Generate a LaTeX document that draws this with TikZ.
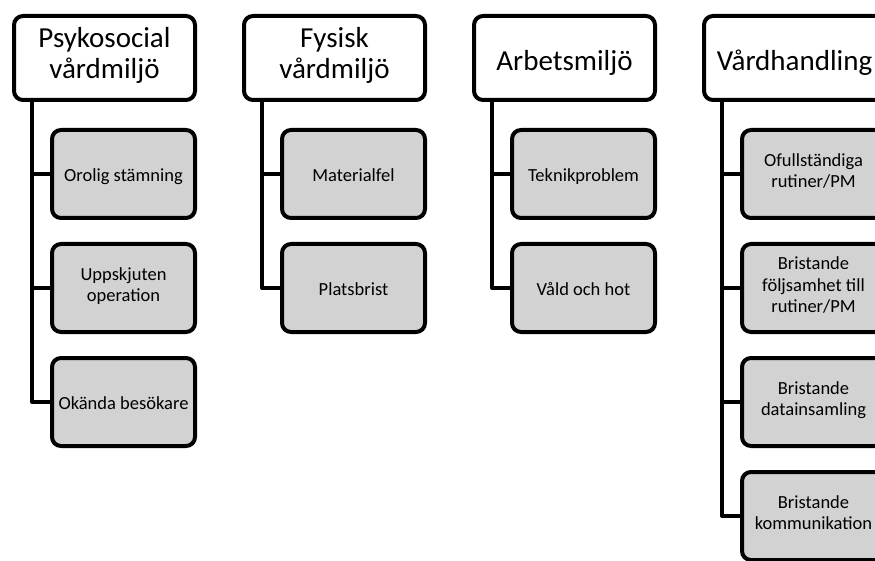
\documentclass[tikz,border=0pt]{standalone}
\usepackage{fontspec}
\setmainfont{Carlito}
\usetikzlibrary{positioning,calc}

\definecolor{subfill}{RGB}{210,210,210}
\tikzset{
  topbox/.style={draw, line width=4pt, rounded corners=9pt, fill=white,
    minimum width=181pt, minimum height=84pt, align=center, inner sep=2pt,
    font=\fontsize{29}{31}\selectfont,
    execute at begin node={\rule{0pt}{1.12\baselineskip}},
    execute at end node=\strut},
  subbox/.style={draw, line width=4pt, rounded corners=9pt, fill=subfill,
    minimum width=143pt, minimum height=88pt, align=center, inner sep=2pt,
    font=\fontsize{18.5}{21.5}\selectfont,
    execute at begin node={\rule{0pt}{0.97\baselineskip}},
    execute at end node=\strut},
  link/.style={line width=4pt, line join=round},
}

\begin{document}
\begin{tikzpicture}[x=1pt, y=1pt]
  \useasboundingbox (0,0) rectangle (875,-561);
  \clip (0,0) rectangle (875,-561);
  % Nodes
  \node[topbox] (psyk) at (104.5,-58) {Psykosocial\\vårdmiljö} ; %
  \node[topbox] (fys) at (334.5,-58) {Fysisk\\vårdmiljö} ; %
  \node[topbox] (arb) at (564.5,-58) {Arbetsmiljö} ; %
  \node[topbox] (vard) at (794.5,-58) {Vårdhandling} ; %

  \node[subbox, below left=26pt and 0pt of psyk.south east] (psyk1) {Orolig stämning} ; %
  \node[subbox, below=22pt of psyk1] (psyk2) {Uppskjuten\\operation} ; %
  \node[subbox, below=22pt of psyk2] (psyk3) {Okända besökare} ; %

  \node[subbox, below left=26pt and 0pt of fys.south east] (fys1) {Materialfel} ; %
  \node[subbox, below=22pt of fys1] (fys2) {Platsbrist} ; %

  \node[subbox, below left=26pt and 0pt of arb.south east] (arb1) {Teknikproblem} ; %
  \node[subbox, below=22pt of arb1] (arb2) {Våld och hot} ; %

  \node[subbox, below left=26pt and 0pt of vard.south east] (vard1) {Ofullständiga\\rutiner/PM} ; %
  \node[subbox, below=22pt of vard1] (vard2) {Bristande\\följsamhet till\\rutiner/PM} ; %
  \node[subbox, below=22pt of vard2] (vard3) {Bristande\\datainsamling} ; %
  \node[subbox, below=22pt of vard3] (vard4) {Bristande\\kommunikation} ; %

  % Connectors
  \coordinate (psyk0) at ($(psyk.south west)+(20,0)$) ; %
  \coordinate (fys0) at ($(fys.south west)+(20,0)$) ; %
  \coordinate (arb0) at ($(arb.south west)+(20,0)$) ; %
  \coordinate (vard0) at ($(vard.south west)+(20,0)$) ; %
  \draw[link] (psyk0) |- (psyk1.west) (psyk0) |- (psyk2.west) (psyk0) |- (psyk3.west) ; %
  \draw[link] (fys0) |- (fys1.west) (fys0) |- (fys2.west) ; %
  \draw[link] (arb0) |- (arb1.west) (arb0) |- (arb2.west) ; %
  \draw[link] (vard0) |- (vard1.west) (vard0) |- (vard2.west)
    (vard0) |- (vard3.west) (vard0) |- (vard4.west) ; %
\end{tikzpicture}
\end{document}
